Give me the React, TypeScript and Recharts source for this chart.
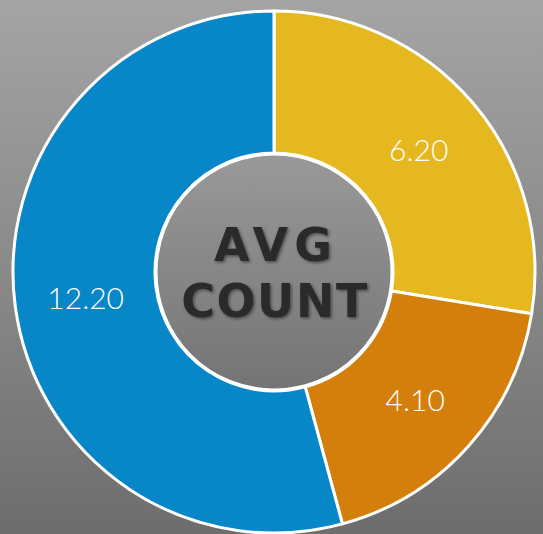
import React from "react";
import { PieChart, Pie, Cell, Customized } from "recharts";

const categories = ["Group A", "Group B", "Group C"];
const values = [6.2, 4.1, 12.2];
const colors = ["#E6B820", "#D47F0C", "#0786C8"];
const centerLines = ["AVG", "COUNT"];

const data = categories.map((name, i) => ({ name, value: values[i] }));

const CX = 274;
const CY = 272;
const INNER = 119;
const OUTER = 261;
const RAD = Math.PI / 180;

const renderLabel = (props: any) => {
  const { cx, cy, midAngle, innerRadius, outerRadius, value } = props;
  const r = (innerRadius + outerRadius) / 2;
  const x = cx + r * Math.cos(-midAngle * RAD);
  const y = cy + r * Math.sin(-midAngle * RAD);
  return (
    <text
      x={x}
      y={y}
      fill="#ffffff"
      textAnchor="middle"
      dominantBaseline="central"
      style={{ fontFamily: "Lato, 'DejaVu Sans', sans-serif", fontWeight: 300, fontSize: 30 }}
    >
      {Number(value).toFixed(2)}
    </text>
  );
};

const CenterDisc = () => (
  <g>
    <circle cx={CX} cy={CY} r={INNER - 1} fill="url(#centerGrad)" stroke="#ffffff" strokeWidth={3} />
    <g filter="url(#textShadow)">
      <text
        x={CX + 2}
        y={CY - 27}
        textAnchor="middle"
        dominantBaseline="central"
        fill="#2a2a2a"
        style={{ fontFamily: "'DejaVu Sans', sans-serif", fontWeight: 700, fontSize: 46, letterSpacing: 6 }}
      >
        {centerLines[0]}
      </text>
      <text
        x={CX + 1}
        y={CY + 29}
        textAnchor="middle"
        dominantBaseline="central"
        fill="#2a2a2a"
        style={{ fontFamily: "'DejaVu Sans', sans-serif", fontWeight: 700, fontSize: 46, letterSpacing: 1.5 }}
      >
        {centerLines[1]}
      </text>
    </g>
  </g>
);

export default function App() {
  return (
    <div
      style={{
        position: "absolute",
        left: 0,
        top: 0,
        width: 543,
        height: 534,
        background: "linear-gradient(to bottom, #a4a4a4 0%, #8a8a8a 50%, #6d6d6d 100%)",
      }}
    >
      <PieChart width={543} height={534} margin={{ top: 0, right: 0, bottom: 0, left: 0 }}>
        <defs>
          <linearGradient id="centerGrad" x1="0" y1="0" x2="0" y2="1">
            <stop offset="0%" stopColor="#999999" />
            <stop offset="100%" stopColor="#747474" />
          </linearGradient>
          <filter id="textShadow" x="-20%" y="-20%" width="140%" height="140%">
            <feDropShadow dx="1.5" dy="1.5" stdDeviation="1.5" floodColor="#000000" floodOpacity="0.45" />
          </filter>
        </defs>
        <Pie
          data={data}
          dataKey="value"
          nameKey="name"
          cx={CX}
          cy={CY}
          innerRadius={INNER}
          outerRadius={OUTER}
          startAngle={90}
          endAngle={-270}
          stroke="#ffffff"
          strokeWidth={3}
          isAnimationActive={false}
          labelLine={false}
          label={renderLabel}
        >
          {data.map((d, i) => (
            <Cell key={d.name} fill={colors[i]} />
          ))}
        </Pie>
        <Customized component={<CenterDisc />} />
      </PieChart>
    </div>
  );
}
